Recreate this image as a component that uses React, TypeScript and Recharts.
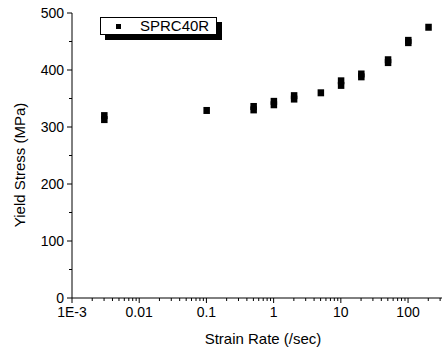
import React from "react";
import {
  ScatterChart,
  Scatter,
  XAxis,
  YAxis,
  Legend,
  Label,
} from "recharts";

// measured strain rates (/sec) and yield stresses (MPa)
const strainRates = [
  0.003, 0.003, 0.1, 0.5, 0.5, 1, 1, 2, 2, 5, 10, 10, 20, 20, 50, 50, 100, 100, 200,
];
const yieldStress = [
  313, 320, 329, 330, 336, 339, 345, 349, 355, 360, 373, 381, 388, 393, 413, 418, 448, 452, 475,
];

const xMajorTicks = [0.001, 0.01, 0.1, 1, 10, 100];
const xMajorLabels = ["1E-3", "0.01", "0.1", "1", "10", "100"];
const xMinorSteps = [2, 3, 4, 5, 6, 7, 8, 9];
const yMajorTicks = [0, 100, 200, 300, 400, 500];
const yMinorTicks = [50, 150, 250, 350, 450];

const FONT = "Arial, 'Liberation Sans', Helvetica, sans-serif";

const data = strainRates.map((rate, i) => ({ rate, stress: yieldStress[i] }));

const xMinorTicks = xMajorTicks
  .flatMap((d) => xMinorSteps.map((s) => +(d * s).toPrecision(3)))
  .filter((v) => v <= 300);
const xTicks = [...xMajorTicks, ...xMinorTicks].sort((a, b) => a - b);
const yTicks = [...yMajorTicks, ...yMinorTicks].sort((a, b) => a - b);

function XTick(props: any) {
  const { x, y, payload } = props;
  const idx = xMajorTicks.indexOf(payload.value);
  const major = idx >= 0;
  return (
    <g>
      <line x1={x} x2={x} y1={y} y2={y + (major ? 5 : 3)} stroke="#000" strokeWidth={1} />
      {major && (
        <text x={x} y={y + 18.5} textAnchor="middle" fontSize={14} fontFamily={FONT} fill="#000">
          {xMajorLabels[idx]}
        </text>
      )}
    </g>
  );
}

function YTick(props: any) {
  const { x, y, payload } = props;
  const major = yMajorTicks.includes(payload.value);
  return (
    <g>
      <line x1={x} x2={x - (major ? 5 : 3)} y1={y} y2={y} stroke="#000" strokeWidth={1} />
      {major && (
        <text x={x - 8} y={y + 5} textAnchor="end" fontSize={14} fontFamily={FONT} fill="#000">
          {payload.value}
        </text>
      )}
    </g>
  );
}

function SquareDot(props: any) {
  const { cx, cy } = props;
  return <rect x={cx - 3} y={cy - 3.5} width={6.5} height={7} fill="#000" />;
}

function LegendBox() {
  return (
    <div
      style={{
        width: 115,
        height: 16,
        border: "1px solid #000",
        background: "#fff",
        boxShadow: "5px 5px 0 0 #000",
        position: "relative",
        fontFamily: FONT,
        fontSize: 15,
        color: "#000",
      }}
    >
      <div
        style={{
          position: "absolute",
          left: 15,
          top: 6,
          width: 5,
          height: 5,
          background: "#000",
        }}
      />
      <div style={{ position: "absolute", left: 39, top: -1, lineHeight: "18px" }}>
        SPRC40R
      </div>
    </div>
  );
}

export default function App() {
  return (
    <div style={{ position: "absolute", left: 0, top: 0, background: "#fff" }}>
      <ScatterChart
        width={445}
        height={352}
        margin={{ top: 13, right: 3, bottom: 0, left: 0 }}
      >
        <XAxis
          type="number"
          dataKey="rate"
          scale="log"
          domain={[0.001, 320]}
          ticks={xTicks}
          interval={0}
          allowDataOverflow
          height={54}
          axisLine={{ stroke: "#000", strokeWidth: 1 }}
          tickLine={false}
          tickSize={0}
          tickMargin={0}
          tick={<XTick />}
        >
          <Label
            content={() => (
              <text x={263} y={344} textAnchor="middle" fontSize={15} fontFamily={FONT} fill="#000">
                Strain Rate (/sec)
              </text>
            )}
          />
        </XAxis>
        <YAxis
          type="number"
          dataKey="stress"
          domain={[0, 500]}
          ticks={yTicks}
          interval={0}
          width={72}
          axisLine={{ stroke: "#000", strokeWidth: 1 }}
          tickLine={false}
          tickSize={0}
          tickMargin={0}
          tick={<YTick />}
        >
          <Label
            content={() => (
              <text
                x={25}
                y={165}
                transform="rotate(-90 25 165)"
                textAnchor="middle"
                fontSize={15}
                fontFamily={FONT}
                fill="#000"
              >
                Yield Stress (MPa)
              </text>
            )}
          />
        </YAxis>
        <Legend
          layout="horizontal"
          align="center"
          verticalAlign="middle"
          content={() => <LegendBox />}
          wrapperStyle={{ position: "absolute", left: 100, top: 17, width: "auto", height: "auto" }}
        />
        <Scatter
          name="SPRC40R"
          data={data}
          fill="#000"
          shape={<SquareDot />}
          isAnimationActive={false}
        />
      </ScatterChart>
    </div>
  );
}
